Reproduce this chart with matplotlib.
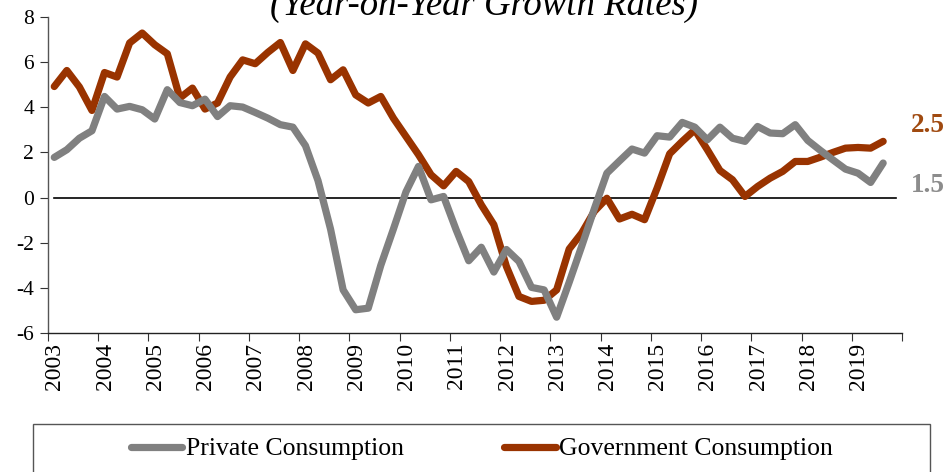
import matplotlib
matplotlib.use("Agg")
import matplotlib.pyplot as plt
from matplotlib.lines import Line2D
from matplotlib.patches import Rectangle

years = list(range(2003, 2020))
private = [1.78, 2.12, 2.63, 2.96, 4.48, 3.92, 4.04, 3.89, 3.48, 4.78,
           4.21, 4.07, 4.36, 3.59, 4.07, 4.01, 3.77, 3.52, 3.23, 3.12,
           2.30, 0.75, -1.40, -4.09, -4.97, -4.90, -3.00, -1.40, 0.25, 1.38,
           -0.10, 0.05, -1.43, -2.80, -2.20, -3.30, -2.30, -2.83, -3.98, -4.09,
           -5.30, -3.75, -2.15, -0.50, 1.08, 1.62, 2.15, 1.97, 2.74, 2.68,
           3.33, 3.12, 2.56, 3.12, 2.63, 2.49, 3.15, 2.86, 2.83, 3.23,
           2.53, 2.09, 1.67, 1.26, 1.08, 0.67, 1.53]
government = [4.92, 5.63, 4.90, 3.86, 5.54, 5.34, 6.85, 7.29, 6.77, 6.37,
              4.41, 4.85, 3.92, 4.19, 5.34, 6.10, 5.93, 6.43, 6.87, 5.63,
              6.81, 6.40, 5.22, 5.66, 4.55, 4.19, 4.48, 3.52, 2.71, 1.90,
              1.01, 0.52, 1.16, 0.71, -0.32, -1.20, -3.05, -4.38, -4.60, -4.55,
              -4.09, -2.28, -1.57, -0.61, -0.03, -0.95, -0.74, -0.98, 0.42, 1.94,
              2.49, 3.00, 2.12, 1.20, 0.79, 0.05, 0.49, 0.86, 1.16, 1.60,
              1.60, 1.79, 2.00, 2.19, 2.22, 2.19, 2.49]
series_names = ["Private Consumption", "Government Consumption"]
end_labels = ["2.5", "1.5"]
yticks = [-6, -4, -2, 0, 2, 4, 6, 8]
title = "(Year-on-Year Growth Rates)"

GRAY = "#808080"
RED = "#993300"
SERIF = "Liberation Serif"

W, H = 946, 472
fig = plt.figure(figsize=(W / 100, H / 100), dpi=100)
ax = fig.add_axes([48 / W, (H - 333) / H, (902 - 48) / W, (333 - 17) / H])

n = len(private)
xq = [i + 0.5 for i in range(n)]

ax.plot([xq[0], xq[-1] + 1], [0, 0], color="black", lw=1.2, zorder=1)
ax.plot(xq, private, color=GRAY, lw=5.2, solid_capstyle="round", solid_joinstyle="round", zorder=3)
ax.plot(xq, government, color=RED, lw=5.2, solid_capstyle="round", solid_joinstyle="round", zorder=2)

nyears = len(years) + 1
ax.set_xlim(0, 4 * len(years))
ax.set_ylim(-6, 8)
ax.set_yticks(yticks)
ax.set_yticklabels([str(v) for v in yticks], fontfamily=SERIF, fontsize=15.5)
ax.set_xticks([4 * k for k in range(nyears)])
ax.set_xticklabels([])
ax.set_xticks([4 * k + 0.55 for k in range(len(years))], minor=True)
ax.set_xticklabels([str(y) for y in years], minor=True, rotation=90,
                   fontfamily=SERIF, fontsize=17, va="top", ha="center")
ax.tick_params(axis="x", which="minor", length=0, pad=7)
ax.tick_params(axis="x", which="major", length=6, direction="out", color="#333333")
ax.tick_params(axis="y", length=6, direction="out", color="#333333", pad=4)

for s in ["top", "right"]:
    ax.spines[s].set_visible(False)
ax.spines["left"].set_color("#555555")
ax.spines["bottom"].set_color("#222222")
ax.spines["left"].set_linewidth(1.0)
ax.spines["bottom"].set_linewidth(1.0)

fig.text(484 / W, (H - 15) / H, title, ha="center", va="baseline",
         fontfamily=SERIF, fontstyle="italic", fontsize=26.5)

fig.text(911 / W, (H - 125) / H, end_labels[0], ha="left", va="center",
         fontfamily=SERIF, fontweight="bold", fontsize=19.5, color="#a04a10")
fig.text(911 / W, (H - 185) / H, end_labels[1], ha="left", va="center",
         fontfamily=SERIF, fontweight="bold", fontsize=19.5, color="#8c8c8c")

# legend box
fig.patches.append(Rectangle((33 / W, -0.2), (930 - 33) / W, 0.2 + (H - 424) / H,
                             transform=fig.transFigure, fill=False,
                             edgecolor="#555555", lw=1.0))
handles = [Line2D([0], [0], color=GRAY, lw=5.2, solid_capstyle="round"),
           Line2D([0], [0], color=RED, lw=5.2, solid_capstyle="round")]
fig.legend(handles, series_names, loc="center", bbox_to_anchor=(482 / W, (H - 449) / H),
           ncol=2, frameon=False, handlelength=2.0, handletextpad=0.15,
           columnspacing=3.9, prop={"family": SERIF, "size": 18.5})

fig.savefig("out.png", dpi=100)
